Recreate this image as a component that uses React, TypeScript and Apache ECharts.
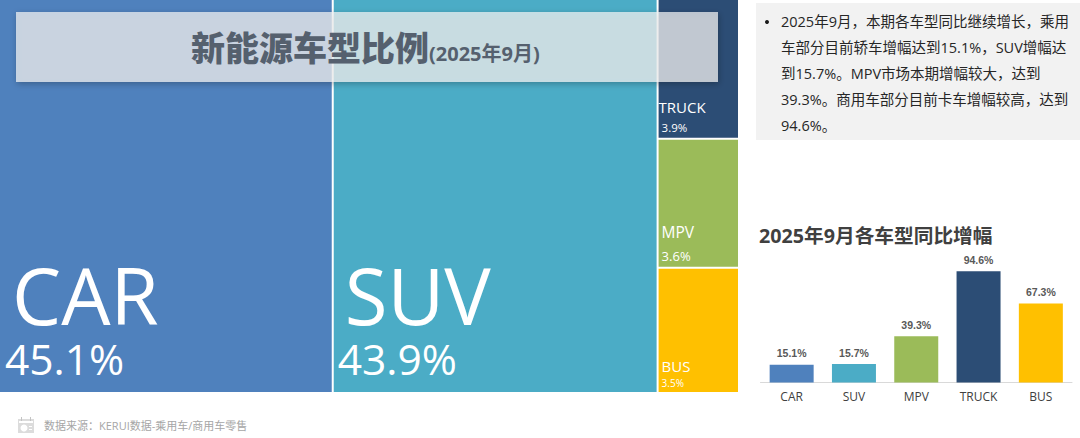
import React, { useEffect, useRef } from "react";
import * as echarts from "echarts";

const shareNames = ["CAR", "SUV", "TRUCK", "MPV", "BUS"];
const shareValues = [45.1, 43.9, 3.9, 3.6, 3.5];
const shareColors = ["#4f81bd", "#4bacc6", "#2c4d75", "#9bbb59", "#ffc000"];
const growthNames = ["CAR", "SUV", "MPV", "TRUCK", "BUS"];
const growthValues = [15.1, 15.7, 39.3, 94.6, 67.3];
const growthColors = ["#4f81bd", "#4bacc6", "#9bbb59", "#2c4d75", "#ffc000"];
const noteText =
  "2025年9月，本期各车型同比继续增长，乘用\n车部分目前轿车增幅达到15.1%，SUV增幅达\n到15.7%。MPV市场本期增幅较大，达到\n39.3%。商用车部分目前卡车增幅较高，达到\n94.6%。";
const FONT = '"Open Sans","Noto Sans CJK SC",sans-serif';

const labelStyles: Record<string, any> = {
  CAR: { position: [5, 257], a: [78, 7], b: [42.5, 0], ah: 76, bh: 50 },
  SUV: { position: [4, 257], a: [78, 7], b: [42.5, 0], ah: 76, bh: 50 },
  TRUCK: { position: [0, 96], a: [15, 0], b: [11.5, 3], ah: 22, bh: 18 },
  MPV: { position: [3, 81], a: [15.5, 0], b: [13, 0], ah: 22, bh: 26 },
  BUS: { position: [3, 87], a: [15, 0], b: [10, 0], ah: 20, bh: 14 },
};

export default function App() {
  const ref = useRef<HTMLDivElement>(null);
  useEffect(() => {
    const chart = echarts.init(ref.current!, undefined, { renderer: "svg" });
    chart.setOption({
      animation: false,
      textStyle: { fontFamily: FONT },
      grid: { left: 760.5, right: 8, top: 265, bottom: 55.5, containLabel: false },
      xAxis: {
        type: "category",
        data: growthNames,
        axisTick: { show: false },
        axisLine: { lineStyle: { color: "#d9d9d9", width: 1 } },
        axisLabel: { color: "#404040", fontSize: 12, fontFamily: FONT, margin: 8 },
      },
      yAxis: { type: "value", min: 0, max: 100, show: false },
      series: [
        {
          type: "treemap",
          left: 0,
          top: 0,
          width: 738,
          height: 392,
          roam: false,
          nodeClick: false,
          breadcrumb: { show: false },
          itemStyle: { gapWidth: 2, borderWidth: 0, borderColor: "#ffffff" },
          upperLabel: { show: false },
          data: shareNames.map((name, i) => {
            const s = labelStyles[name];
            return {
              name,
              value: shareValues[i],
              itemStyle: { color: shareColors[i] },
              label: {
                show: true,
                padding: 0,
                position: s.position,
                color: "#ffffff",
                formatter: `{a|${name}}\n{b|${shareValues[i].toFixed(1)}%}`,
                rich: {
                  a: { fontSize: s.a[0], padding: [0, 0, 0, s.a[1]], color: "#fff", fontFamily: FONT, lineHeight: s.ah },
                  b: { fontSize: s.b[0], padding: [0, 0, 0, s.b[1]], color: "#fff", fontFamily: FONT, lineHeight: s.bh },
                },
              },
            };
          }),
        },
        {
          type: "bar",
          barWidth: 44,
          data: growthValues.map((v, i) => ({ value: v, itemStyle: { color: growthColors[i] } })),
          label: {
            show: true,
            position: "top",
            distance: 6,
            formatter: (p: any) => `${p.value.toFixed(1)}%`,
            color: "#595959",
            fontSize: 10.5,
            fontWeight: "bold",
            fontFamily: '"Liberation Sans",sans-serif',
          },
        },
      ],
      graphic: [
        {
          type: "rect", z: 100,
          shape: { x: 16, y: 12, width: 702, height: 70 },
          style: { fill: "rgba(242,242,242,0.72)", shadowBlur: 6, shadowColor: "rgba(0,0,0,0.35)", shadowOffsetX: 1, shadowOffsetY: 2 },
        },
        {
          type: "text", z: 101, x: 191, y: 48,
          style: { text: "新能源车型比例", fill: "#55606e", font: `900 34px ${FONT}`, textVerticalAlign: "middle", shadowBlur: 2, shadowColor: "rgba(0,0,0,0.25)", shadowOffsetY: 1 },
        },
        {
          type: "text", z: 101, x: 429, y: 53,
          style: { text: "(2025年9月)", fill: "#55606e", font: `bold 20px ${FONT}`, textVerticalAlign: "middle" },
        },
        { type: "rect", z: 10, shape: { x: 756, y: 3, width: 324, height: 137 }, style: { fill: "#f2f2f2" } },
        { type: "circle", z: 11, shape: { cx: 767, cy: 22, r: 2 }, style: { fill: "#1a1a1a" } },
        {
          type: "text", z: 11, x: 781, y: 9,
          style: { text: noteText, fill: "#262626", font: `14.5px ${FONT}`, lineHeight: 25.8 },
        },
        {
          type: "text", z: 11, x: 759, y: 235,
          style: { text: "2025年9月各车型同比增幅", fill: "#404040", font: `bold 19.7px ${FONT}`, textVerticalAlign: "middle" },
        },
        {
          type: "group", z: 11, x: 18, y: 417,
          children: [
            { type: "rect", shape: { x: 0, y: 2, width: 16, height: 14 }, style: { fill: "#dcdcdc" } },
            { type: "rect", shape: { x: 1, y: 4, width: 14, height: 2 }, style: { fill: "#ffffff" } },
            { type: "rect", shape: { x: 3, y: 0, width: 1, height: 4 }, style: { fill: "#c4c4c4" } },
            { type: "rect", shape: { x: 12, y: 0, width: 1, height: 4 }, style: { fill: "#c4c4c4" } },
            { type: "circle", shape: { cx: 6, cy: 11, r: 3.5 }, style: { fill: "#ffffff" } },
            { type: "rect", shape: { x: 11, y: 9, width: 3, height: 1 }, style: { fill: "#ffffff" } },
            { type: "rect", shape: { x: 11, y: 12, width: 3, height: 1 }, style: { fill: "#ffffff" } },
          ],
        },
        {
          type: "text", z: 11, x: 44, y: 425,
          style: { text: "数据来源：KERUI数据-乘用车/商用车零售", fill: "#a6a6a6", font: `11px ${FONT}`, textVerticalAlign: "middle" },
        },
      ],
    });
    return () => chart.dispose();
  }, []);
  return <div ref={ref} style={{ position: "absolute", left: 0, top: 0, width: 1080, height: 438, background: "#fff" }} />;
}
